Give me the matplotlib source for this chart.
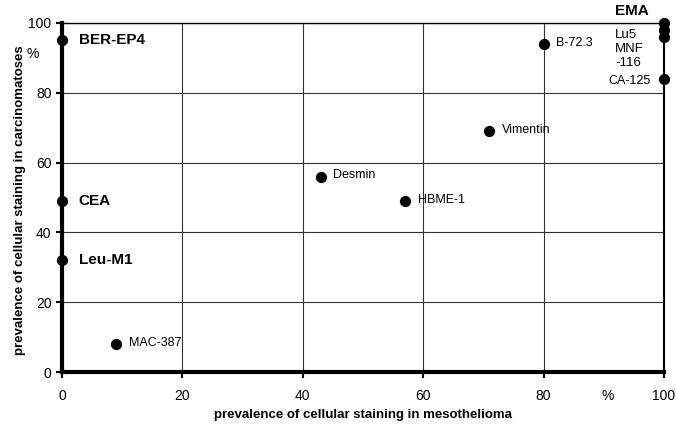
import matplotlib
matplotlib.use("Agg")
import matplotlib.pyplot as plt

plt.rcParams['font.family'] = ['Liberation Sans', 'DejaVu Sans']

# markers (mesothelioma %, carcinomatoses %)
names = ["BER-EP4", "CEA", "Leu-M1", "MAC-387", "Desmin", "HBME-1",
         "Vimentin", "B-72.3", "EMA", "Lu5", "MNF-116", "CA-125"]
meso = [0, 0, 0, 9, 43, 57, 71, 80, 100, 100, 100, 100]
carc = [95, 49, 32, 8, 56, 49, 69, 94, 100, 98, 96, 84]

fig = plt.figure(figsize=(6.76, 4.25), dpi=100)
ax = fig.add_axes([0.0917, 0.1247, 0.8905, 0.8212])

ax.scatter(meso, carc, s=50, color='black', zorder=5, clip_on=False)

ax.set_xlim(0, 100)
ax.set_ylim(0, 100)
ax.set_xticks([0, 20, 40, 60, 80, 100])
ax.set_yticks([0, 20, 40, 60, 80, 100])
ax.grid(True, color='#333333', linewidth=0.8)
ax.set_axisbelow(True)
ax.tick_params(labelsize=10, length=4, width=1.5, direction='out')
ax.tick_params(axis='x', pad=8)

ax.spines['left'].set_linewidth(3)
ax.spines['bottom'].set_linewidth(3)
ax.spines['top'].set_linewidth(1)
ax.spines['right'].set_linewidth(1.5)

# labels next to the points
bold_left = ["BER-EP4", "CEA", "Leu-M1"]
for n, x, y in zip(names, meso, carc):
    if n in bold_left:
        ax.annotate(n, (x, y), xytext=(12, 0), textcoords='offset points',
                    va='center', fontsize=11, fontweight='bold')
    elif n in ["MAC-387", "Desmin", "HBME-1", "Vimentin", "B-72.3"]:
        ax.annotate(n, (x, y), xytext=(9, 1), textcoords='offset points',
                    va='center', fontsize=9)

ax.text(91.9, 101.5, "EMA", ha='left', va='bottom', fontsize=11, fontweight='bold')
ax.text(91.9, 92.5, "Lu5\nMNF\n-116", ha='left', va='center', fontsize=9.5,
        linespacing=1.2)
ax.text(90.8, 81.8, "CA-125", ha='left', va='bottom', fontsize=9)

fig.text(363 / 676, 1 - 415 / 425, "prevalence of cellular staining in mesothelioma",
         ha='center', va='center', fontsize=9.5, fontweight='bold')
fig.text(20 / 676, 1 - 200 / 425, "prevalence of cellular staining in carcinomatoses",
         ha='center', va='center', rotation=90, fontsize=9.5, fontweight='bold')
fig.text(33 / 676, 1 - 54 / 425, "%", ha='center', va='center', fontsize=10)
fig.text(608 / 676, 1 - 396 / 425, "%", ha='center', va='center', fontsize=10)

fig.savefig("out.png", dpi=100)
